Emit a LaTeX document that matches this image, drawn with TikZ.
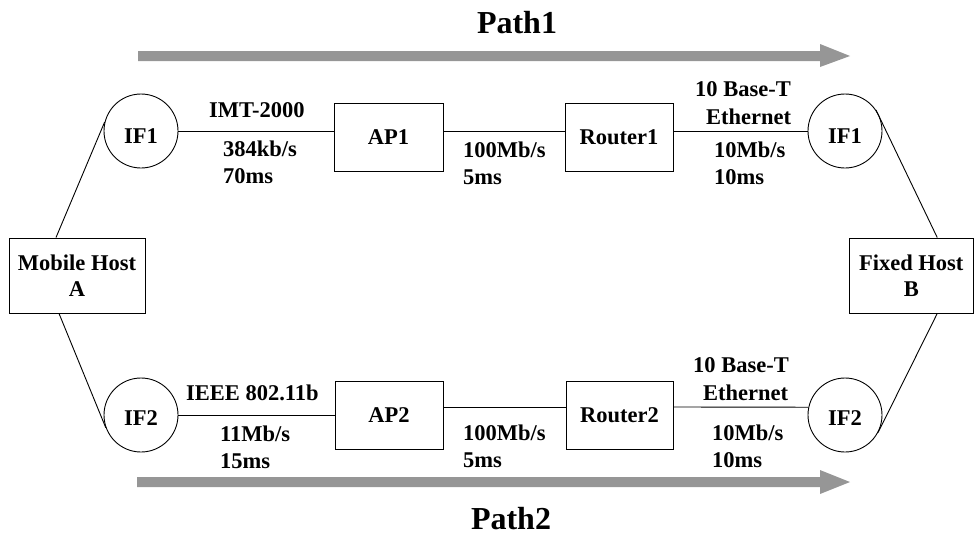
\documentclass[tikz,border=0pt]{standalone}
\usepackage{fontspec}
\setmainfont{Liberation Serif}
\usetikzlibrary{calc}
\begin{document}
\begin{tikzpicture}[x=1pt,y=-1pt,
  lbl/.style={font=\bfseries\fontsize{22.5}{26}\selectfont, inner sep=0pt},
  txt/.style={lbl, anchor=base west},
  boxn/.style={draw, line width=0.9pt, minimum height=68pt, inner sep=0pt, lbl, align=center},
  ifc/.style={draw, circle, line width=0.9pt, minimum size=74pt, inner sep=0pt},
  iftxt/.style={lbl},
  conn/.style={line width=0.9pt},
  patharrow/.style={fill={rgb,255:red,150;green,150;blue,150}},
  ptitle/.style={font=\bfseries\fontsize{32}{36}\selectfont, anchor=base, inner sep=0pt}]
\useasboundingbox (0,0) rectangle (975,536);

% hosts
\node[boxn, minimum width=136pt, minimum height=75pt] (mh) at (77,275.5) {Mobile Host\\A};
\node[boxn, minimum width=124.5pt, minimum height=75pt] (fh) at (911.25,275.5) {Fixed Host\\B};

% top row
\node[ifc] (if1a) at (141,131) {};
\node[iftxt] (if1at) at (141,136) {IF1};
\node[boxn, minimum width=109pt] (ap1) at (388.5,137) {AP1};
\node[boxn, minimum width=108pt] (r1) at (619,137) {Router1};
\node[ifc] (if1b) at (845,131) {};
\node[iftxt] (if1bt) at (845,136) {IF1};

% bottom row
\node[ifc] (if2a) at (141,415) {};
\node[iftxt] (if2at) at (141,418) {IF2};
\node[boxn, minimum width=108pt] (ap2) at (389,415) {AP2};
\node[boxn, minimum width=107pt] (r2) at (619.5,415) {Router2};
\node[ifc] (if2b) at (845,415) {};
\node[iftxt] (if2bt) at (845,418) {IF2};

% connectors
\draw[conn] ([xshift=-21pt]mh.north) -- (if1a.166);
\draw[conn] ([xshift=-18pt]mh.south) -- (if2a.200);
\draw[conn] ([xshift=26pt]fh.north) -- (if1b.34);
\draw[conn] ([xshift=26pt]fh.south) -- (if2b.332);

\draw[conn] (if1a.east) -- (ap1.west |- if1a.east);
\draw[conn] (ap1.east |- if1a.east) -- (r1.west |- if1a.east);
\draw[conn] (r1.east |- if1a.east) -- (if1b.west);

\draw[conn] (if2a.east) -- (ap2.west |- if2a.east);
\coordinate (l2a) at ([yshift=8pt]ap2.east);
\coordinate (l2b) at ([yshift=8pt]r2.east);
\draw[conn] (l2a) -- (l2a -| r2.west);
\draw[conn] (l2b) -- (if2b.168);

% link labels top
\node[txt] (t1) at (209,117) {IMT-2000};
\node[txt] (t2) at (223,156) {384kb/s};
\node[txt] (t3) at (223,183) {70ms};
\node[txt] (t4) at (463,157) {100Mb/s};
\node[txt] (t5) at (463,184) {5ms};
\node[txt] (t6) at (695,96) {10 Base-T};
\node[txt] (t7) at (706,124) {Ethernet};
\node[txt] (t8) at (714,157) {10Mb/s};
\node[txt] (t9) at (714,184) {10ms};

% link labels bottom
\node[txt] (b1) at (186,400) {IEEE 802.11b};
\node[txt] (b2) at (220,441) {11Mb/s};
\node[txt] (b3) at (220,468) {15ms};
\node[txt] (b4) at (463,440) {100Mb/s};
\node[txt] (b5) at (463,467) {5ms};
\node[txt] (b6) at (693,372) {10 Base-T};
\node[txt] (b7) at (703,400) {Ethernet};
\node[txt] (b8) at (712,440) {10Mb/s};
\node[txt] (b9) at (712,467) {10ms};

% path arrows
\fill[patharrow] (138,51) -- (820,51) -- (820,44) -- (850,56) -- (820,67) -- (820,61) -- (138,61) -- cycle;
\fill[patharrow] (137,477) -- (820,477) -- (820,470) -- (850,482) -- (820,494) -- (820,487) -- (137,487) -- cycle;
\node[ptitle] (p1) at (517,33) {Path1};
\node[ptitle] (p2) at (511,529) {Path2};
\end{tikzpicture}
\end{document}
